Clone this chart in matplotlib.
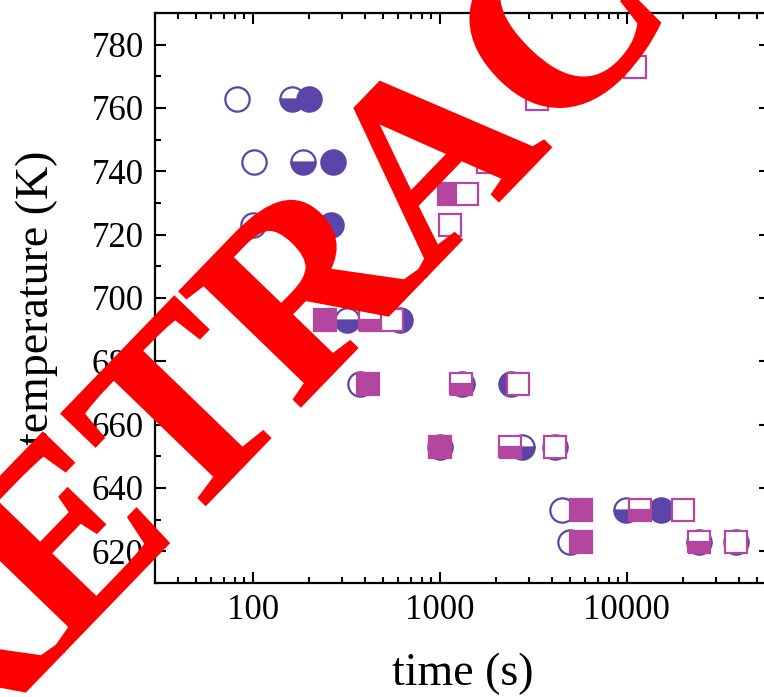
import numpy as np
import matplotlib.pyplot as plt
import matplotlib.patheffects as pe
from matplotlib.ticker import FixedLocator, NullFormatter, LogLocator

plt.rcParams['font.family'] = ['Liberation Serif', 'DejaVu Serif']

# data: (time in s, temperature in K)
circ_open_t = [82, 101, 100, 116, 373, 1000, 4490, 4950]
circ_open_T = [763, 743, 723, 693, 673, 653, 633, 623]
circ_half_t = [163, 186, 318, 1312, 2760, 9950, 24260]
circ_half_T = [763, 743, 693, 673, 653, 633, 623]
circ_full_t = [200, 267, 263, 615, 2390, 4120, 15300, 38600]
circ_full_T = [763, 743, 723, 693, 673, 653, 633, 623]

sq_full_t = [1117, 243, 415, 1000, 5680, 5680]
sq_full_T = [733, 693, 673, 653, 633, 623]
sq_half_t = [423, 1306, 2388, 11830, 24260]
sq_half_T = [693, 673, 653, 633, 623]
sq_open_t = [11100, 3327, 1820, 1403, 1130, 558, 2618, 4120, 19860, 38600]
sq_open_T = [773, 763, 743, 733, 723, 693, 673, 653, 633, 623]

x_major = [100, 1000, 10000]
x_labels = ['100', '1000', '10000']
y_major = [620, 640, 660, 680, 700, 720, 740, 760, 780]

purple = '#5b45a8'
magenta = '#b5469f'

fig = plt.figure(figsize=(7.64, 6.97), dpi=100)
# one decade is ~187 px wide, right spine sits just past the image edge
ax = fig.add_axes([155 / 764, 114 / 697, 615 / 764, 570 / 697])

circ = dict(marker='o', ms=17.5, mew=1.6, ls='none', zorder=3)
ax.plot(circ_open_t, circ_open_T, mec=purple, mfc='white', **circ)
ax.plot(circ_half_t, circ_half_T, mec=purple, mfc=purple, fillstyle='bottom',
        markerfacecoloralt='white', **circ)
ax.plot(circ_full_t, circ_full_T, mec=purple, mfc=purple, **circ)

sq = dict(marker='s', ms=15.5, mew=1.6, ls='none', zorder=4)
ax.plot(sq_full_t, sq_full_T, mec=magenta, mfc=magenta, **sq)
ax.plot(sq_half_t, sq_half_T, mec=magenta, mfc=magenta, fillstyle='bottom',
        markerfacecoloralt='white', **sq)
ax.plot(sq_open_t, sq_open_T, mec=magenta, mfc='white', **sq)

ax.set_xscale('log')
ax.set_xlim(30, 30 * 10 ** (615 / 187))
ax.set_ylim(610, 790)
ax.xaxis.set_major_locator(FixedLocator(x_major))
ax.set_xticklabels(x_labels)
ax.xaxis.set_minor_locator(LogLocator(base=10, subs=np.arange(2, 10)))
ax.xaxis.set_minor_formatter(NullFormatter())
ax.set_yticks(y_major)
ax.set_yticks(np.arange(610, 791, 10), minor=True)

ax.tick_params(which='both', direction='in', top=True, right=True, width=1.5,
               labelsize=25, pad=8)
ax.tick_params(which='major', length=8)
ax.tick_params(which='minor', length=4.5)
for s in ax.spines.values():
    s.set_linewidth(1.6)

ax.set_xlabel('time (s)', fontsize=33, labelpad=18)
ax.set_ylabel('temperature (K)', fontsize=33, labelpad=24)

# retraction stamp over the whole figure
fig.text(488 / 764, 1 - 212 / 697, 'RETRACTED', color='#ff0000', fontsize=183,
         fontweight='bold', rotation=46, rotation_mode='anchor',
         ha='center', va='baseline', zorder=10,
         path_effects=[pe.withStroke(linewidth=2, foreground='#ff0000',
                                     joinstyle='miter')])

fig.savefig('out.png', dpi=100)
